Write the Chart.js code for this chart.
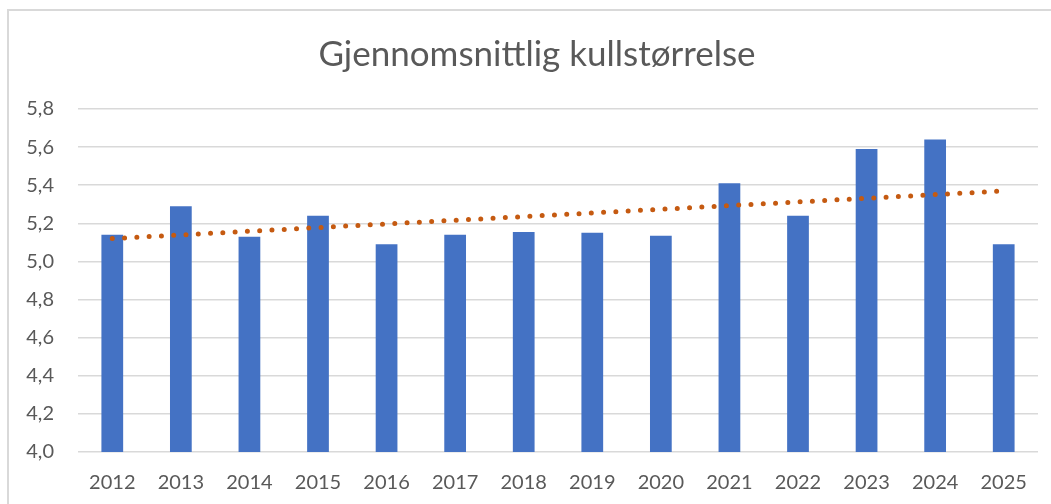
<!DOCTYPE html>
<html>
<head>
<meta charset="utf-8">
<script src="https://cdn.jsdelivr.net/npm/chart.js@4"></script>
<style>
  html, body { margin: 0; padding: 0; background: #fff; overflow: hidden; }
  #wrap { position: absolute; left: 0; top: 0; width: 1051px; height: 504px; }
  #frame { position: absolute; left: 7px; top: 9px; width: 1100px; height: 600px; border: 2px solid #D9D9D9; box-sizing: border-box; }
  canvas { position: absolute; left: 0; top: 0; }
</style>
</head>
<body>
<div id="wrap">
  <div id="frame"></div>
  <canvas id="c" width="1051" height="504"></canvas>
</div>
<script>
const title = "Gjennomsnittlig kullstørrelse";
const years = ["2012","2013","2014","2015","2016","2017","2018","2019","2020","2021","2022","2023","2024","2025"];
const litterSize = [5.14, 5.29, 5.13, 5.24, 5.09, 5.14, 5.155, 5.15, 5.135, 5.41, 5.24, 5.59, 5.64, 5.09];
// linear trendline end points
const trendStart = 5.12;
const trendEnd = 5.37;
const yTicks = [4.0, 4.2, 4.4, 4.6, 4.8, 5.0, 5.2, 5.4, 5.6, 5.8];

const trend = years.map((_, i) => i === 0 ? trendStart : (i === years.length - 1 ? trendEnd : null));

const grey = '#595959';
const fontFamily = 'Lato, "Open Sans", sans-serif';

const titlePlugin = {
  id: 'offsetTitle',
  afterDraw(chart) {
    const ctx = chart.ctx;
    ctx.save();
    ctx.font = '35px ' + fontFamily;
    ctx.fillStyle = grey;
    ctx.textAlign = 'center';
    ctx.textBaseline = 'middle';
    ctx.fillText(title, 537, 55);
    ctx.restore();
  }
};

new Chart(document.getElementById('c'), {
  data: {
    labels: years,
    datasets: [
      {
        type: 'line',
        data: trend,
        spanGaps: true,
        borderColor: '#C55A11',
        borderWidth: 5,
        borderCapStyle: 'round',
        borderDash: [0, 12.3],
        pointRadius: 0,
        fill: false,
        order: 0
      },
      {
        type: 'bar',
        data: litterSize,
        backgroundColor: '#4472C4',
        borderWidth: 0,
        categoryPercentage: 1.0,
        barPercentage: 0.317,
        order: 1
      }
    ]
  },
  plugins: [titlePlugin],
  options: {
    responsive: false,
    animation: false,
    events: [],
    layout: { padding: { left: 0, right: 13, top: 109, bottom: 0 } },
    plugins: {
      legend: { display: false },
      tooltip: { enabled: false },
      title: { display: false }
    },
    scales: {
      x: {
        grid: { display: false },
        border: { display: false },
        ticks: { color: grey, font: { family: fontFamily, size: 20 }, padding: 11, maxRotation: 0 },
        afterFit: s => { s.height = 52; }
      },
      y: {
        min: 4.0,
        max: 5.8,
        afterBuildTicks: s => { s.ticks = yTicks.map(v => ({ value: v })); },
        grid: { color: '#D9D9D9', lineWidth: 1.5, drawTicks: false },
        border: { display: false },
        ticks: {
          color: grey,
          font: { family: fontFamily, size: 20 },
          padding: 24,
          callback: v => Number(v).toFixed(1).replace('.', ',')
        },
        afterFit: s => { s.width = 78; }
      }
    }
  }
});
</script>
</body>
</html>
